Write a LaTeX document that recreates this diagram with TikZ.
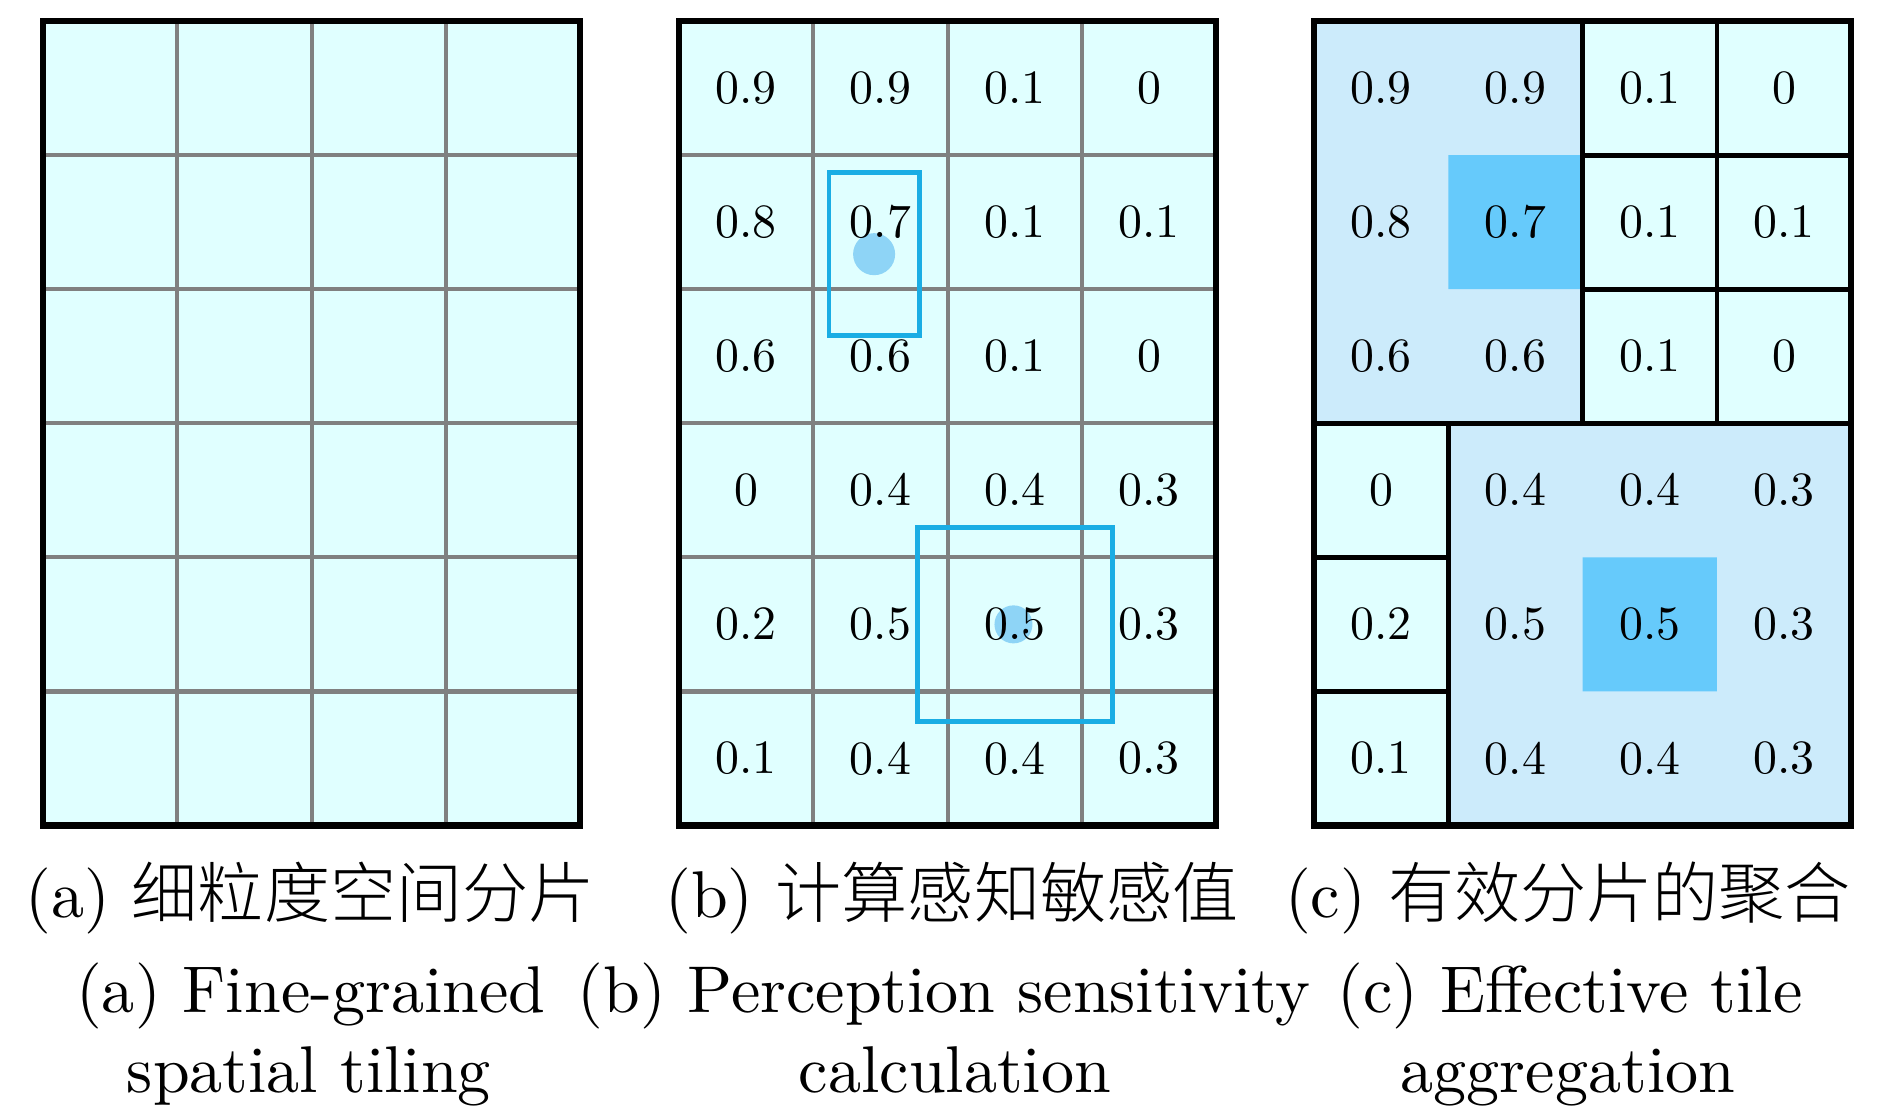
\documentclass[tikz,border=0pt]{standalone}
\usepackage{fontspec}
\setmainfont{lmroman10-regular.otf}
\newfontfamily\cjk{Noto Sans CJK SC}[UprightFont=* Light]
\usepackage{tikz}

\definecolor{tilecyan}{HTML}{E0FFFF}
\definecolor{tileblue}{HTML}{CCEBFB}
\definecolor{tilehot}{HTML}{66CAFB}
\definecolor{fovblue}{HTML}{1AADE4}
\definecolor{dotblue}{HTML}{8ED4F6}

\def\tilevals{{0.9,0.9,0.1,0},{0.8,0.7,0.1,0.1},{0.6,0.6,0.1,0},{0,0.4,0.4,0.3},{0.2,0.5,0.5,0.3},{0.1,0.4,0.4,0.3}}

\begin{document}
\begin{tikzpicture}[x=0.01cm, y=-0.01cm,
    gridline/.style={draw=gray, line width=1.2pt},
    panelframe/.style={draw=black, line width=1.8pt},
    cut/.style={draw=black, line width=1.4pt},
    tileval/.style={font=\fontsize{13.6}{16}\selectfont, inner sep=0pt},
    fov/.style={draw=fovblue, line width=1.35pt, inner sep=0pt},
    gaze/.style={circle, fill=dotblue, inner sep=0pt},
    captext/.style={font=\fontsize{18.8}{22.5}\selectfont, anchor=base, inner sep=0pt}]
  \useasboundingbox (0,0) rectangle (1890,1108);

  \begin{scope}[shift={(43,21)}, x=1.3425cm, y=-1.34cm]
    \fill[tilecyan] (0,0) rectangle (4,6);
    \foreach \i in {1,2,3} \draw[gridline] (\i,0) -- (\i,6);
    \foreach \j in {1,...,5} \draw[gridline] (0,\j) -- (4,\j);
    \draw[panelframe] (0,0) rectangle (4,6);
  \end{scope}

  \begin{scope}[shift={(679,21)}, x=1.3425cm, y=-1.34cm]
    \fill[tilecyan] (0,0) rectangle (4,6);
    \foreach \i in {1,2,3} \draw[gridline] (\i,0) -- (\i,6);
    \foreach \j in {1,...,5} \draw[gridline] (0,\j) -- (4,\j);
    \draw[panelframe] (0,0) rectangle (4,6);
    \node[gaze, minimum size=0.42cm] (gaze-1) at (1.4525,1.739) {};
    \node[gaze, minimum size=0.38cm] (gaze-2) at (2.49,4.5) {};
    \node[fov, minimum width=0.90cm, minimum height=1.63cm] (fov-1) at (gaze-1) {};
    \node[fov, minimum width=1.95cm, minimum height=1.94cm] (fov-2) at (2.5,4.5) {};
    \foreach \row [count=\j from 0] in \tilevals
      \foreach \v [count=\i from 0] in \row
        \node[tileval] (b-\j-\i) at (\i+0.5,\j+0.5) {\v};
  \end{scope}

  \begin{scope}[shift={(1314,21)}, x=1.3425cm, y=-1.34cm]
    \fill[tilecyan] (0,0) rectangle (4,6);
    \fill[tileblue] (0,0) rectangle (2,3) (1,3) rectangle (4,6);
    \fill[tilehot] (1,1) rectangle (2,2) (2,4) rectangle (3,5);
    \draw[cut] (2,0) -- (2,3) (3,0) -- (3,3) (2,1) -- (4,1) (2,2) -- (4,2)
      (0,3) -- (4,3) (1,3) -- (1,6) (0,4) -- (1,4) (0,5) -- (1,5);
    \draw[panelframe] (0,0) rectangle (4,6);
    \foreach \row [count=\j from 0] in \tilevals
      \foreach \v [count=\i from 0] in \row
        \node[tileval] (c-\j-\i) at (\i+0.5,\j+0.5) {\v};
  \end{scope}

  \node[captext] (zh-a) at (310,917) {(a) {\cjk 细粒度空间分片}};
  \node[captext] (zh-b) at (952,917) {(b) {\cjk 计算感知敏感值}};
  \node[captext] (zh-c) at (1568,917) {(c) {\cjk 有效分片的聚合}};
  \node[captext] (en-a1) at (311,1012) {(a) Fine-grained};
  \node[captext] (en-a2) at (309,1092) {spatial tiling};
  \node[captext] (en-b1) at (944,1012) {(b) Perception sensitivity};
  \node[captext] (en-b2) at (955,1092) {calculation};
  \node[captext] (en-c1) at (1570,1012) {(c) Effective tile};
  \node[captext] (en-c2) at (1568,1092) {aggregation};
\end{tikzpicture}
\end{document}
